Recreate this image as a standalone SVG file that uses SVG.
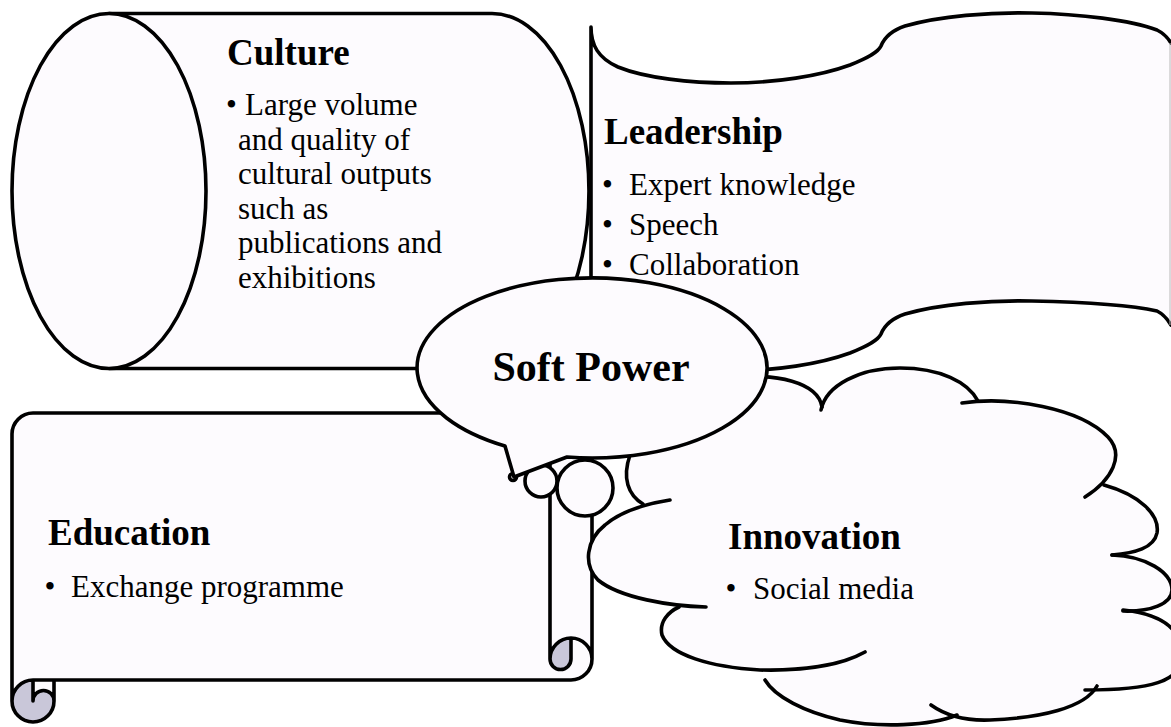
<svg xmlns="http://www.w3.org/2000/svg" width="1171" height="727" viewBox="0 0 1171 727">
<style>
.sh{fill:#fdfbfe;stroke:none}
.shs{fill:#fdfbfe;stroke:#000;stroke-width:3.6;stroke-linejoin:round}
.ln{fill:none;stroke:#000;stroke-width:3.6;stroke-linejoin:round;stroke-linecap:round}
.thin{fill:none;stroke:#b8b8b8;stroke-width:1}
.dk{fill:#c9c7d9;stroke:none}
.t{font-family:"Liberation Serif","Times New Roman",serif;fill:#000}
.h{font-size:37px;font-weight:bold}
.b{font-size:31px}
.sp{font-size:42px;font-weight:bold}
</style>
<rect width="1171" height="727" fill="#fff"/>

<g id="leadership">
  <path class="sh" d="M591,27 C591,45 598,58 618,67 C645,78 690,83 731,83 C775,83 820,76 850,65 C870,57 878,52 881,46 C885,36 893,30 905,26 C940,16 990,12 1032,13 C1080,14 1130,20 1157,30 C1163,33 1168,38 1171,43 L1171,325 C1168,320 1163,314 1157,311 C1130,305 1080,302 1032,301 C990,300 940,304 905,314 C893,318 885,324 881,334 C878,340 870,345 850,353 C820,364 775,371 731,371 C690,371 645,366 618,355 C598,346 591,333 591,315 Z"/>
  <path class="ln" d="M591,315 L591,27 C591,45 598,58 618,67 C645,78 690,83 731,83 C775,83 820,76 850,65 C870,57 878,52 881,46 C885,36 893,30 905,26 C940,16 990,12 1032,13 C1080,14 1130,20 1157,30 C1163,33 1168,38 1171,43"/>
  <path class="ln" d="M591,315 C591,333 598,346 618,355 C645,366 690,371 731,371 C775,371 820,364 850,353 C870,345 878,340 881,334 C885,324 893,318 905,314 C940,304 990,300 1032,301 C1080,302 1130,305 1157,311 C1163,314 1168,320 1171,325"/>
  <path class="thin" d="M1170,43 L1170,325"/>
  <text class="t h" x="604" y="144">Leadership</text>
  <text class="t b" x="602" y="195">•</text>
  <text class="t b" x="629" y="195">Expert knowledge</text>
  <text class="t b" x="602" y="235">•</text>
  <text class="t b" x="629" y="235">Speech</text>
  <text class="t b" x="602" y="275">•</text>
  <text class="t b" x="629" y="275">Collaboration</text>
</g>

<g id="culture">
  <path class="sh" d="M109,13.5 L492,13.5 A97,177.5 0 0 1 492,368.5 L109,368.5 Z"/>
  <path class="ln" d="M109,13.5 L492,13.5 A97,177.5 0 0 1 492,368.5 L109,368.5"/>
  <ellipse class="shs" cx="109" cy="191" rx="97" ry="177.5"/>
  <text class="t h" x="227" y="65">Culture</text>
  <text class="t b" x="226" y="115">•</text>
  <text class="t b" x="245" y="115">Large volume</text>
  <text class="t b" x="238" y="149.5">and quality of</text>
  <text class="t b" x="238" y="184">cultural outputs</text>
  <text class="t b" x="238" y="218.5">such as</text>
  <text class="t b" x="238" y="253">publications and</text>
  <text class="t b" x="238" y="287.5">exhibitions</text>
</g>

<g id="education">
  <g transform="matrix(-1 0 0 -1 592 722)">
    <path class="sh" d="M580,21 A21,21 0 0 1 559,42 L559,21 A10.5,10.5 0 0 1 538,21 L538,42 L21,42 A21,21 0 0 0 0,63 L0,330 A21,21 0 0 0 42,330 L42,309 L559,309 A21,21 0 0 0 580,288 Z M21,84 A21,21 0 0 0 42,63 A10.5,10.5 0 0 0 21,63 Z"/>
    <path class="dk" d="M21,84 A21,21 0 0 0 42,63 A10.5,10.5 0 0 0 21,63 Z M559,42 A21,21 0 1 0 538,21 A10.5,10.5 0 0 0 559,21 Z"/>
    <path class="ln" d="M0,63 A21,21 0 0 1 21,42 L538,42 L538,21 A21,21 0 0 1 580,21 L580,288 A21,21 0 0 1 559,309 L42,309 L42,330 A21,21 0 0 1 0,330 Z M538,42 L559,42 A21,21 0 0 0 580,21 M559,42 L559,21 A10.5,10.5 0 0 1 538,21 M21,84 L21,63 A10.5,10.5 0 0 1 42,63 A21,21 0 0 1 0,63 M42,63 L42,309"/>
  </g>
  <text class="t h" x="48" y="545">Education</text>
  <text class="t b" x="44.5" y="597">•</text>
  <text class="t b" x="71" y="597">Exchange programme</text>
</g>

<g id="innovation">
  <path class="sh" d="M630,455 L740,378 C775,373 818,382 822,407 C826,385 860,368 900,368 C940,368 968,382 978,401 L962,403 C1010,396 1080,408 1108,437 C1125,455 1112,480 1085,497 L1104,485 C1140,495 1160,515 1157,533 C1154,548 1135,553 1112,555 C1145,556 1172,572 1172,590 C1172,604 1150,612 1123,611 C1160,614 1182,628 1182,655 C1182,682 1150,690 1085,690 L1097,686 C1085,708 1040,718 990,720 C965,721 945,715 931,705 L957,715 C930,726 880,728 840,720 C805,712 775,697 765,680 L865,652 C840,666 800,671 760,670 C710,667 670,655 662,635 C659,622 668,612 679,607 L706,607 C670,606 620,598 598,580 C583,565 586,540 605,525 C620,512 645,504 670,500 L643,504 C628,495 622,478 630,455 Z"/>
  <path class="ln" d="M735,378 C775,373 818,382 822,407"/>
  <path class="ln" d="M821,410 C826,385 860,368 900,368 C940,368 968,382 978,401"/>
  <path class="ln" d="M962,403 C1010,396 1080,408 1108,437 C1125,455 1112,480 1085,497"/>
  <path class="ln" d="M1104,485 C1140,495 1160,515 1157,533 C1154,548 1135,553 1112,555"/>
  <path class="ln" d="M1112,555 C1145,556 1172,572 1172,590 C1172,604 1150,612 1123,611"/>
  <path class="ln" d="M1123,610 C1160,614 1182,628 1182,655 C1182,682 1150,690 1085,690"/>
  <path class="ln" d="M1097,686 C1085,708 1040,718 990,720 C965,721 945,715 931,705"/>
  <path class="ln" d="M957,715 C930,726 880,728 840,720 C805,712 775,697 765,680"/>
  <path class="ln" d="M865,652 C840,666 800,671 760,670 C710,667 670,655 662,635 C659,622 668,612 679,607"/>
  <path class="ln" d="M706,607 C670,606 620,598 598,580 C583,565 586,540 605,525 C620,512 645,504 670,500"/>
  <path class="ln" d="M643,504 C628,495 622,478 630,455 C633,448 638,440 645,435"/>
  <circle class="shs" cx="585" cy="488" r="28"/>
  <circle class="shs" cx="541" cy="481" r="16"/>
  <circle class="shs" cx="513" cy="477" r="3.5"/>
  <text class="t h" x="728" y="548.5">Innovation</text>
  <text class="t b" x="725.5" y="598.5">•</text>
  <text class="t b" x="753" y="598.5">Social media</text>
</g>

<g id="soft-power">
  <path class="shs" d="M505,446 L514,477 L567,457 A175,90 0 1 0 505,446 Z"/>
  <text class="t sp" x="591" y="381" text-anchor="middle">Soft Power</text>
</g>

<g id="connectors"/>
</svg>
